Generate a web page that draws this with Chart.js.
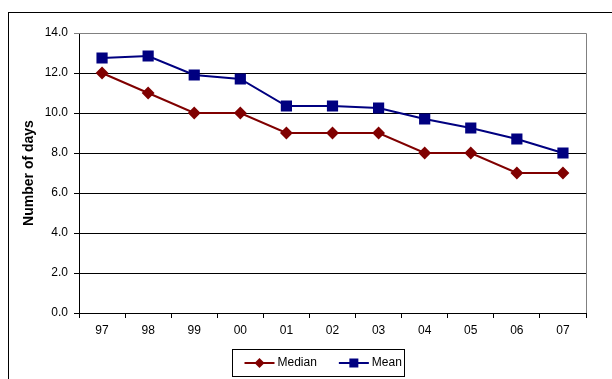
<!DOCTYPE html>
<html lang="en">
<head>
<meta charset="UTF-8">
<title>Number of days</title>
<script src="https://cdn.jsdelivr.net/npm/chart.js"></script>
<style>
    html, body { margin: 0; padding: 0; background: #fff; overflow: hidden; }
    #frame { position: absolute; left: 8px; top: 12px; width: 700px; height: 500px;
             border-left: 1px solid #000; border-top: 1px solid #000; }
    #chart { position: absolute; left: 0; top: 0; }
</style>
</head>
<body>
<div id="frame"></div>
<canvas id="chart" width="612" height="379"></canvas>

<script>
    // data
    const years = ['97', '98', '99', '00', '01', '02', '03', '04', '05', '06', '07'];
    const median = [12, 11, 10, 10, 9, 9, 9, 8, 8, 7, 7];
    const mean = [12.75, 12.85, 11.9, 11.7, 10.35, 10.35, 10.25, 9.7, 9.25, 8.7, 8.0];

    const FONT = '"Liberation Sans", Arial, sans-serif';
    const RED = '#800000';
    const BLUE = '#000080';

    // grey border on top and right of the plot area
    const plotBorder = {
        id: 'plotBorder',
        afterDatasetsDraw(chart) {
            const { ctx, chartArea: a } = chart;
            ctx.save();
            ctx.strokeStyle = '#808080';
            ctx.lineWidth = 1;
            ctx.beginPath();
            ctx.moveTo(a.left, a.top + 0.5);
            ctx.lineTo(a.right + 0.5, a.top + 0.5);
            ctx.lineTo(a.right + 0.5, a.bottom);
            ctx.stroke();
            ctx.restore();
        }
    };

    // boxed legend like the original (line + marker)
    const boxLegend = {
        id: 'boxLegend',
        afterDraw(chart) {
            const ctx = chart.ctx;
            const box = { x: 232.5, y: 349.5, w: 172, h: 27 };
            ctx.save();
            ctx.strokeStyle = '#000';
            ctx.lineWidth = 1;
            ctx.strokeRect(box.x, box.y, box.w, box.h);
            ctx.font = '12px ' + FONT;
            ctx.textBaseline = 'middle';
            ctx.fillStyle = '#000';
            const cy = box.y + box.h / 2;
            let x = box.x + 12;
            chart.data.datasets.forEach(ds => {
                ctx.strokeStyle = ds.borderColor;
                ctx.fillStyle = ds.borderColor;
                ctx.lineWidth = 2;
                ctx.beginPath();
                ctx.moveTo(x, cy);
                ctx.lineTo(x + 30, cy);
                ctx.stroke();
                const mx = x + 15;
                ctx.beginPath();
                if (ds.pointStyle === 'rectRot') {
                    ctx.moveTo(mx, cy - 5);
                    ctx.lineTo(mx + 5, cy);
                    ctx.lineTo(mx, cy + 5);
                    ctx.lineTo(mx - 5, cy);
                    ctx.closePath();
                } else {
                    ctx.rect(mx - 4.5, cy - 4.5, 9, 9);
                }
                ctx.fill();
                ctx.fillStyle = '#000';
                ctx.fillText(ds.label, x + 33, cy);
                x += 33 + ctx.measureText(ds.label).width + 22;
            });
            ctx.restore();
        }
    };

    const ctx = document.getElementById('chart').getContext('2d');
    new Chart(ctx, {
        type: 'line',
        data: {
            labels: years,
            datasets: [{
                label: 'Median',
                data: median,
                borderColor: RED,
                backgroundColor: RED,
                borderWidth: 2,
                pointStyle: 'rectRot',
                pointRadius: 5,
                tension: 0
            }, {
                label: 'Mean',
                data: mean,
                borderColor: BLUE,
                backgroundColor: BLUE,
                borderWidth: 2,
                pointStyle: 'rect',
                pointRadius: 6.5,
                tension: 0
            }]
        },
        options: {
            responsive: false,
            animation: false,
            layout: { padding: { left: 0, top: 33, right: 26, bottom: 36 } },
            plugins: {
                legend: { display: false },
                tooltip: { enabled: false }
            },
            scales: {
                x: {
                    offset: true,
                    grid: {
                        offset: true,
                        drawOnChartArea: false,
                        tickLength: 5,
                        color: '#000'
                    },
                    border: { color: '#000', width: 1 },
                    ticks: {
                        color: '#000',
                        font: { family: FONT, size: 12 },
                        padding: 5,
                        maxRotation: 0
                    },
                    afterFit(scale) { scale.height = 30; }
                },
                y: {
                    min: 0,
                    max: 14,
                    grid: {
                        tickLength: 5,
                        color: c => (c.tick && c.tick.value === 14 ? '#808080' : '#000')
                    },
                    border: { color: '#000', width: 1 },
                    ticks: {
                        stepSize: 2,
                        color: '#000',
                        padding: 6,
                        font: { family: FONT, size: 12 },
                        callback: v => v.toFixed(1)
                    },
                    title: {
                        display: true,
                        text: 'Number of days',
                        color: '#000',
                        font: { family: FONT, size: 14, weight: 'bold' },
                        padding: { top: 21, bottom: 0 }
                    },
                    afterFit(scale) { scale.width = 79; }
                }
            }
        },
        plugins: [plotBorder, boxLegend]
    });
</script>
</body>
</html>
